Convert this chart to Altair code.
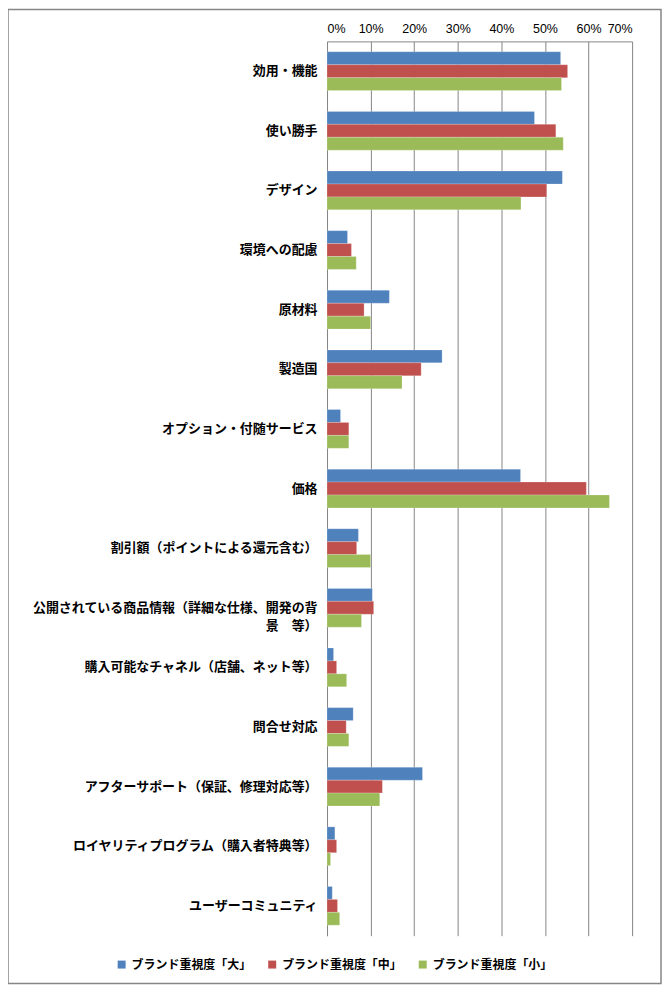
import altair as alt
import pandas as pd

categories = [
    "効用・機能",
    "使い勝手",
    "デザイン",
    "環境への配慮",
    "原材料",
    "製造国",
    "オプション・付随サービス",
    "価格",
    "割引額（ポイントによる還元含む）",
    "公開されている商品情報（詳細な仕様、開発の背景　等）",
    "購入可能なチャネル（店舗、ネット等）",
    "問合せ対応",
    "アフターサポート（保証、修理対応等）",
    "ロイヤリティプログラム（購入者特典等）",
    "ユーザーコミュニティ",
]
series = ["ブランド重視度「大」", "ブランド重視度「中」", "ブランド重視度「小」"]
large = [53.6, 47.6, 54.0, 4.7, 14.3, 26.4, 3.1, 44.4, 7.2, 10.4, 1.5, 6.0, 21.9, 1.8, 1.2]
medium = [55.2, 52.5, 50.4, 5.6, 8.5, 21.6, 5.0, 59.5, 6.8, 10.7, 2.2, 4.4, 12.7, 2.2, 2.4]
small = [53.8, 54.2, 44.5, 6.7, 10.0, 17.2, 5.0, 64.8, 10.0, 7.9, 4.5, 5.0, 12.1, 0.8, 2.9]
tick_values = [0, 0.1, 0.2, 0.3, 0.4, 0.5, 0.6, 0.7]
colors = ["#4F81BD", "#C0504D", "#9BBB59"]

rows = []
for s, vals in zip(series, [large, medium, small]):
    for c, v in zip(categories, vals):
        rows.append({"category": c, "series": s, "value": v / 100.0})
df = pd.DataFrame(rows)

long_label = categories[9]
label_expr = (
    "datum.value == '" + long_label + "' ? "
    "['公開されている商品情報（詳細な仕様、開発の背', '景　等）　　　　　　　　　'] : datum.value"
)

JP = "Noto Sans CJK JP"

bars = alt.Chart(df).mark_bar(
    stroke="white", strokeOpacity=0.35, strokeWidth=0.6
).encode(
    x=alt.X(
        "value:Q",
        scale=alt.Scale(domain=[0, 0.7], nice=False),
        axis=alt.Axis(
            orient="top",
            values=tick_values,
            format=".0%",
            title=None,
            grid=True,
            gridColor="#868686",
            gridWidth=1,
            domainColor="#868686",
            ticks=False,
            labelFont="Liberation Sans",
            labelFontSize=12.5,
            labelColor="#000000",
            labelPadding=6,
        ),
    ),
    y=alt.Y(
        "category:N",
        sort=categories,
        scale=alt.Scale(paddingInner=0.35, paddingOuter=0.175),
        axis=alt.Axis(
            title=None,
            ticks=False,
            domainColor="#868686",
            labelFont=JP,
            labelFontSize=13,
            labelFontWeight="bold",
            labelColor="#000000",
            labelPadding=10,
            labelLimit=0,
            labelLineHeight=18,
            labelExpr=label_expr,
        ),
    ),
    yOffset=alt.YOffset("series:N", sort=series),
    color=alt.Color(
        "series:N",
        sort=series,
        scale=alt.Scale(domain=series, range=colors),
        legend=alt.Legend(
            title=None,
            orient="none",
            direction="horizontal",
            legendX=-212,
            legendY=920,
            symbolType="square",
            symbolSize=64,
            symbolStrokeWidth=0,
            labelFont=JP,
            labelFontSize=12,
            labelFontWeight="bold",
            labelColor="#000000",
            labelOffset=4,
            columnPadding=14,
        ),
    ),
)

frame = alt.Chart(alt.Data(values=[{"a": 1}])).mark_rect(
    filled=False, stroke="#868686", strokeWidth=1.5
).encode(
    x=alt.value(-320),
    x2=alt.value(335),
    y=alt.value(-32),
    y2=alt.value(945),
)

chart = alt.layer(bars, frame).properties(
    width=306,
    height=897,
    padding={"left": 320, "top": 32, "right": 32, "bottom": 50},
    autosize=alt.AutoSizeParams(type="none"),
    background="white",
).configure_view(stroke="transparent")

chart.save("out.html", embed_options={"renderer": "svg", "actions": False})
